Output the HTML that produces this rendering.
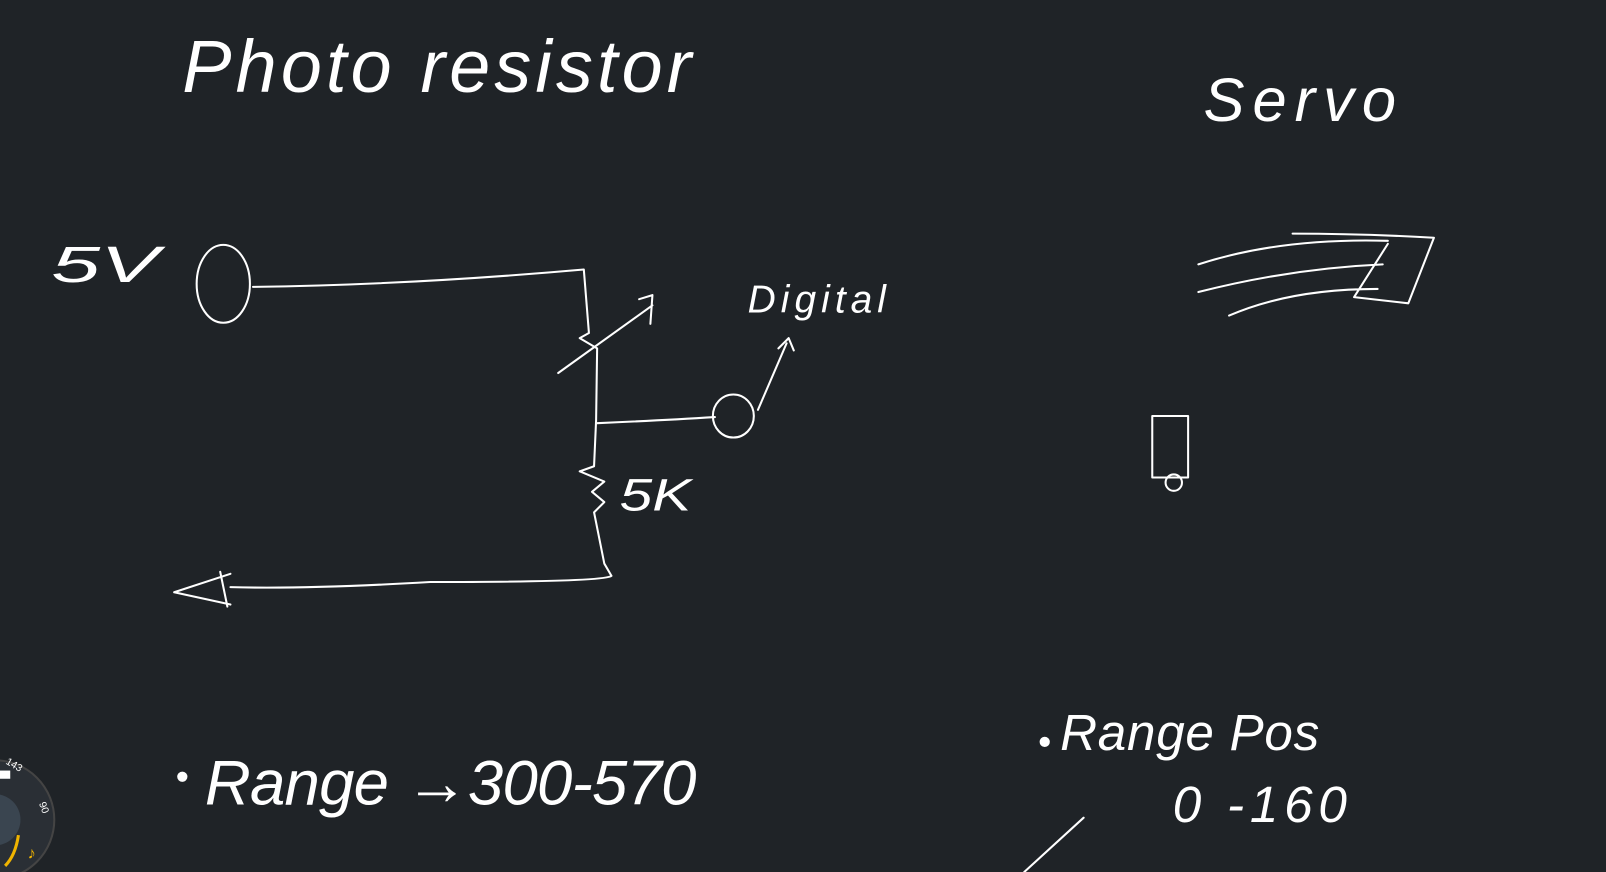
<!DOCTYPE html>
<html><head><meta charset="utf-8"><style>
html,body{margin:0;padding:0;background:#1f2327;overflow:hidden}
svg{display:block}
text{fill:#fff;font-family:"Liberation Sans",sans-serif}
</style></head><body>
<svg width="1606" height="872" viewBox="0 0 1568 851" preserveAspectRatio="none" xmlns="http://www.w3.org/2000/svg">
<rect width="1568" height="851" fill="#1f2327"/>
<g fill="none" stroke="#fff" stroke-width="2" stroke-linecap="round" stroke-linejoin="round">
<g>
<ellipse cx="218" cy="277" rx="26" ry="38"/>
<path d="M247 280 Q400 278 570 263 L575 325 L566 330 L583 340 L582 410 L580 455 L566 460 L590 470 L578 480 L590 490 L580 500 L590 550 L597 562 Q590 568 420 568 Q300 575 225 573"/>
<path d="M545 364 L637 298 M624 292 L637 288 L635 316"/>
<path d="M583 413 Q650 410 698 407"/>
<ellipse cx="716" cy="406" rx="20" ry="21"/>
<path d="M740 400 L768 335 M760 340 L770 330 L775 342"/>
<path d="M225 560 L170 578 L225 590 M215 558 L222 592"/>
</g>
<g>
<path d="M1170 258 Q1250 232 1355 235 M1170 285 Q1260 262 1350 258 M1200 308 Q1260 282 1345 282 M1262 228 Q1330 228 1400 232 L1375 296 L1322 290 L1355 238"/>
<rect x="1125" y="406" width="35" height="60"/>
<circle cx="1146" cy="471" r="8"/>
<path d="M1058 798 L1000 851"/>
</g>
</g>
<text x="178" y="90" font-size="72" font-style="italic" textLength="497" lengthAdjust="spacing">Photo resistor</text>
<text x="1175" y="118" font-size="60" font-style="italic" textLength="188" lengthAdjust="spacing">Servo</text>
<text x="50" y="275" font-size="50" font-style="italic" textLength="105" lengthAdjust="spacingAndGlyphs">5V</text>
<text x="730" y="305" font-size="38" font-style="italic" textLength="135" lengthAdjust="spacing">Digital</text>
<text x="605" y="498" font-size="44" font-style="italic" textLength="70" lengthAdjust="spacingAndGlyphs">5K</text>
<circle cx="178" cy="758" r="5" fill="#fff"/>
<text x="200" y="785" font-size="62" font-style="italic" textLength="480" lengthAdjust="spacing">Range  →300-570</text>
<circle cx="1020" cy="724" r="5" fill="#fff"/>
<text x="1035" y="732" font-size="50" font-style="italic" textLength="253" lengthAdjust="spacing">Range  Pos</text>
<text x="1145" y="802" font-size="50" font-style="italic" textLength="170" lengthAdjust="spacing">0 -160</text>
<g>
<circle cx="-5" cy="800" r="58" fill="#2a2f35" stroke="#444" stroke-width="2"/>
<circle cx="-5" cy="800" r="25" fill="#3a4550"/>
<text x="5" y="745" font-size="10" transform="rotate(30 5 745)">143</text>
<text x="38" y="784" font-size="10" transform="rotate(70 38 784)">90</text>
<rect x="0" y="752" width="10" height="8" fill="#fff"/>
<text x="27" y="838" font-size="16" style="fill:#f0b400">♪</text>
<path d="M18 815 Q15 835 5 845" stroke="#f0b400" stroke-width="3" fill="none"/>
</g>
</svg>
</body></html>
